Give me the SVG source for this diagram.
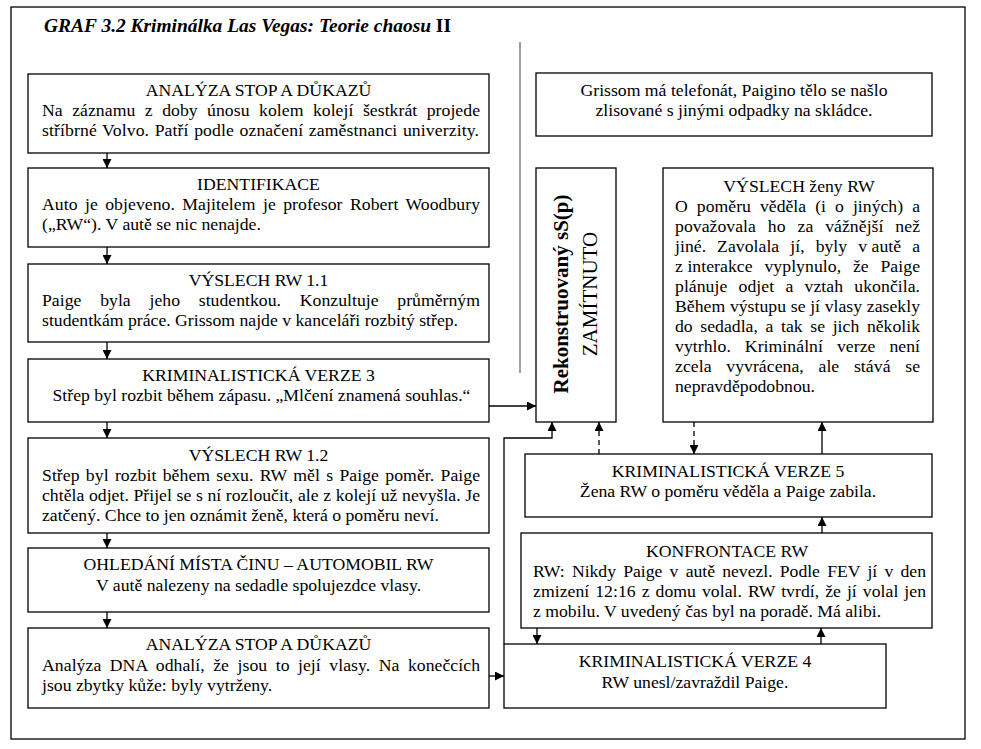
<svg xmlns="http://www.w3.org/2000/svg" width="981" height="749" viewBox="0 0 981 749">
<defs>
<marker id="ah" viewBox="0 0 10 10" refX="10" refY="5" markerWidth="9" markerHeight="9" markerUnits="userSpaceOnUse" orient="auto"><path d="M0,0 L10,5 L0,10 z" fill="#000"/></marker>
<style>
text{font-family:"Liberation Serif","Times New Roman",serif;font-size:17.7px;fill:#000}
.c{text-anchor:middle}
.box{fill:#fff;stroke:#000;stroke-width:1.3}
.ln{fill:none;stroke:#000;stroke-width:1.3}
.ds{fill:none;stroke:#000;stroke-width:1.3;stroke-dasharray:5,4}
.nb{word-spacing:0}
</style>
</defs>
<rect x="0" y="0" width="981" height="749" fill="#fff"/>
<rect x="11" y="7" width="954" height="732" fill="none" stroke="#000" stroke-width="1.3"/>
<text x="44" y="32" font-weight="bold" style="font-size:19px" textLength="407" lengthAdjust="spacingAndGlyphs"><tspan font-style="italic">GRAF 3.2 Kriminálka Las Vegas: Teorie chaosu</tspan> II</text>
<line x1="520" y1="42" x2="520" y2="373" stroke="#8a8a8a" stroke-width="1.6"/>

<g id="n1"><rect class="box" x="28" y="74" width="461" height="79"/>
<text class="c" x="258.5" y="96">ANALÝZA STOP A DŮKAZŮ</text>
<text x="42" y="116" textLength="438" lengthAdjust="spacing" style="word-spacing:5px">Na záznamu z doby únosu kolem kolejí šestkrát projede</text>
<text x="42" y="136" textLength="437" lengthAdjust="spacing" style="word-spacing:1px">stříbrné Volvo. Patří podle označení zaměstnanci univerzity.</text></g>

<g id="n2"><rect class="box" x="28" y="168" width="461" height="79"/>
<text class="c" x="258.5" y="190">IDENTIFIKACE</text>
<text x="42" y="210" textLength="438" lengthAdjust="spacing" style="word-spacing:2.9px">Auto je objeveno. Majitelem je profesor Robert Woodbury</text>
<text x="42" y="230">(„RW“). V autě se nic nenajde.</text></g>

<g id="n3"><rect class="box" x="28" y="264" width="461" height="78"/>
<text class="c" x="258.5" y="286">VÝSLECH RW 1.1</text>
<text x="42" y="306" textLength="438" lengthAdjust="spacing" style="word-spacing:14.3px">Paige byla jeho studentkou. Konzultuje průměrným</text>
<text x="42" y="326">studentkám práce. Grissom najde v kanceláři rozbitý střep.</text></g>

<g id="n4"><rect class="box" x="28" y="359" width="461" height="63"/>
<text class="c" x="258.5" y="381">KRIMINALISTICKÁ VERZE 3</text>
<text class="c" x="261.5" y="401">Střep byl rozbit během zápasu. „Mlčení znamená souhlas.“</text></g>

<g id="n5"><rect class="box" x="28" y="438" width="461" height="95"/>
<text class="c" x="258.5" y="461">VÝSLECH RW 1.2</text>
<text x="42" y="481" textLength="438" lengthAdjust="spacing" style="word-spacing:1.8px">Střep byl rozbit během sexu. RW měl s Paige poměr. Paige</text>
<text x="42" y="501" textLength="438" lengthAdjust="spacing" style="word-spacing:0.2px">chtěla odjet. Přijel se s ní rozloučit, ale z kolejí už nevyšla. Je</text>
<text x="42" y="521">zatčený. Chce to jen oznámit ženě, která o poměru neví.</text></g>

<g id="n6"><rect class="box" x="28" y="548" width="461" height="64"/>
<text class="c" x="258.5" y="570">OHLEDÁNÍ MÍSTA ČINU – AUTOMOBIL RW</text>
<text class="c" x="258.5" y="591">V autě nalezeny na sedadle spolujezdce vlasy.</text></g>

<g id="n7"><rect class="box" x="28" y="628" width="461" height="80"/>
<text class="c" x="258.5" y="650">ANALÝZA STOP A DŮKAZŮ</text>
<text x="42" y="671" textLength="438" lengthAdjust="spacing" style="word-spacing:4px">Analýza DNA odhalí, že jsou to její vlasy. Na konečcích</text>
<text x="42" y="691">jsou zbytky kůže: byly vytrženy.</text></g>

<g id="n8"><rect class="box" x="536" y="73" width="396" height="63"/>
<text class="c" x="734" y="96">Grissom má telefonát, Paigino tělo se našlo</text>
<text class="c" x="734" y="116">zlisované s jinými odpadky na skládce.</text></g>

<g id="n9"><rect class="box" x="536" y="168" width="80" height="254"/>
<text class="c" transform="translate(568,294) rotate(-90)" font-weight="bold" style="font-size:21px">Rekonstruovaný sS(p)</text>
<text class="c" transform="translate(597,294) rotate(-90)" style="font-size:21px">ZAMÍTNUTO</text></g>

<g id="n10"><rect class="box" x="663" y="168" width="270" height="254"/>
<text class="c" x="799" y="192">VÝSLECH ženy RW</text>
<text x="675" y="212" textLength="245" lengthAdjust="spacing" style="word-spacing:4.6px">O poměru věděla (i o jiných) a</text>
<text x="675" y="232" textLength="245" lengthAdjust="spacing" style="word-spacing:7.4px">považovala ho za vážnější než</text>
<text x="675" y="252" textLength="245" lengthAdjust="spacing" style="word-spacing:6.6px">jiné. Zavolala jí, byly <tspan class="nb">v autě</tspan> a</text>
<text x="675" y="272" textLength="245" lengthAdjust="spacing" style="word-spacing:7.3px"><tspan class="nb">z interakce</tspan> vyplynulo, že Paige</text>
<text x="675" y="292" textLength="245" lengthAdjust="spacing" style="word-spacing:6.8px">plánuje odjet a vztah ukončila.</text>
<text x="675" y="312" textLength="245" lengthAdjust="spacing" style="word-spacing:0.2px">Během výstupu se jí vlasy zasekly</text>
<text x="675" y="332" textLength="245" lengthAdjust="spacing" style="word-spacing:3.2px">do sedadla, a tak se jich několik</text>
<text x="675" y="352" textLength="245" lengthAdjust="spacing" style="word-spacing:9.5px">vytrhlo. Kriminální verze není</text>
<text x="675" y="372" textLength="245" lengthAdjust="spacing" style="word-spacing:10.2px">zcela vyvrácena, ale stává se</text>
<text x="675" y="392">nepravděpodobnou.</text></g>

<g id="n11"><rect class="box" x="525" y="454" width="407" height="63"/>
<text class="c" x="728" y="477">KRIMINALISTICKÁ VERZE 5</text>
<text class="c" x="728" y="497">Žena RW o poměru věděla a Paige zabila.</text></g>

<g id="n12"><rect class="box" x="521" y="533" width="411" height="95"/>
<text class="c" x="727" y="557">KONFRONTACE RW</text>
<text x="533" y="577" textLength="393" lengthAdjust="spacing" style="word-spacing:2.9px">RW: Nikdy Paige v autě nevezl. Podle FEV jí v den</text>
<text x="533" y="597" textLength="393" lengthAdjust="spacing" style="word-spacing:1.5px">zmizení 12:16 z domu volal. RW tvrdí, že jí volal jen</text>
<text x="533" y="617">z mobilu. V uvedený čas byl na poradě. Má alibi.</text></g>

<g id="n13"><rect class="box" x="504" y="644" width="382" height="64"/>
<text class="c" x="695" y="667">KRIMINALISTICKÁ VERZE 4</text>
<text class="c" x="695" y="688">RW unesl/zavraždil Paige.</text></g>

<g id="connectors">
<line class="ln" x1="107" y1="153" x2="107" y2="168" marker-end="url(#ah)"/>
<line class="ln" x1="107" y1="247" x2="107" y2="264" marker-end="url(#ah)"/>
<line class="ln" x1="107" y1="342" x2="107" y2="359" marker-end="url(#ah)"/>
<line class="ln" x1="107" y1="422" x2="107" y2="438" marker-end="url(#ah)"/>
<line class="ln" x1="107" y1="533" x2="107" y2="548" marker-end="url(#ah)"/>
<line class="ln" x1="107" y1="612" x2="107" y2="628" marker-end="url(#ah)"/>
<line class="ln" x1="489" y1="406" x2="536" y2="406" marker-end="url(#ah)"/>
<line class="ln" x1="489" y1="676" x2="504" y2="676" marker-end="url(#ah)"/>
<polyline class="ln" points="504,644 504,438 552,438 552,422" marker-end="url(#ah)"/>
<line class="ds" x1="599" y1="454" x2="599" y2="422" marker-end="url(#ah)"/>
<line class="ds" x1="694" y1="422" x2="694" y2="454" marker-end="url(#ah)"/>
<line class="ln" x1="822" y1="454" x2="822" y2="422" marker-end="url(#ah)"/>
<line class="ln" x1="822" y1="533" x2="822" y2="517" marker-end="url(#ah)"/>
<line class="ln" x1="537" y1="628" x2="537" y2="644" marker-end="url(#ah)"/>
<line class="ln" x1="821" y1="644" x2="821" y2="628" marker-end="url(#ah)"/>
</g>
</svg>
